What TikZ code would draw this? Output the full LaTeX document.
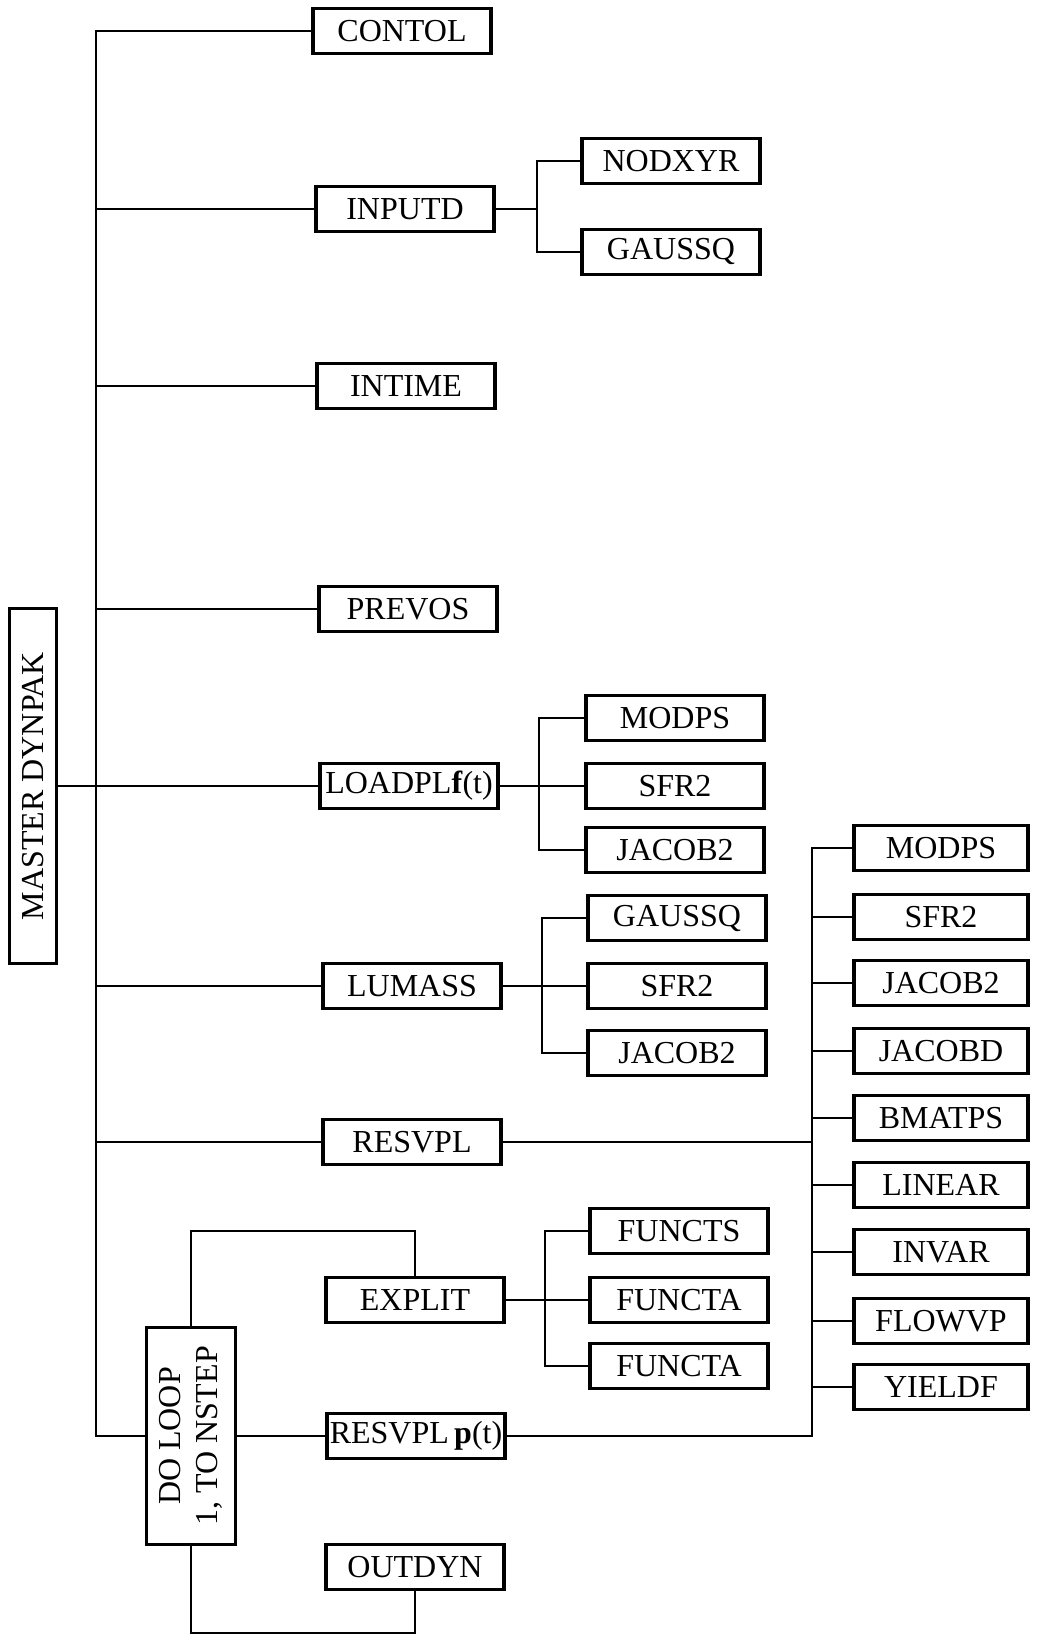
\documentclass[tikz,border=0pt]{standalone}
\usepackage{fontspec}
\setmainfont{Liberation Serif}
\usepackage{tikz}

\begin{document}
\begin{tikzpicture}[
            x = 0.01cm, y = -0.01cm, % pixel grid, y runs downwards
            line width = 0.6pt, % connector style
            font = \fontsize{9.1}{10.6}\selectfont,
            box/.style = {draw, line width=0.9pt, minimum width=1.78cm, minimum height=0.45cm, inner sep=0pt},
            rbox/.style = {box, minimum width=1.74cm},
            vbox/.style = {draw, line width=0.9pt, rotate=90, inner sep=0pt, align=center}
        ]
\useasboundingbox (0,0) rectangle (1046,1643);

\node[vbox, minimum width=3.55cm, minimum height=0.47cm] (MASTER) at (33,786) {MASTER DYNPAK};
\node[vbox, minimum width=2.17cm, minimum height=0.89cm] (LOOP) at (191,1436) {DO LOOP\\1, TO NSTEP};

\node[box] (CONTOL) at (402,31) {CONTOL};
\node[box] (INPUTD) at (405,209) {INPUTD};
\node[box] (INTIME) at (406,386) {INTIME};
\node[box] (PREVOS) at (408,609) {PREVOS};
\node[box] (LOADPL) at (409,786) {LOADPL\textbf{f}(t)};
\node[box] (LUMASS) at (412,986) {LUMASS};
\node[box] (RESVPL) at (412,1142) {RESVPL};
\node[box] (EXPLIT) at (415,1300) {EXPLIT};
\node[box] (RESVPLp) at (416,1436) {RESVPL\,\textbf{p}(t)};
\node[box] (OUTDYN) at (415,1567) {OUTDYN};

\node[box] (NODXYR) at (671,161) {NODXYR};
\node[box] (GAUSSQ) at (671,252) {GAUSSQ};
\node[box] (MODPS) at (675,718) {MODPS};
\node[box] (SFR2) at (675,786) {SFR2};
\node[box] (JACOB2) at (675,850) {JACOB2};
\node[box] (GAUSSQ_l) at (677,918) {GAUSSQ};
\node[box] (SFR2_l) at (677,986) {SFR2};
\node[box] (JACOB2_l) at (677,1053) {JACOB2};
\node[box] (FUNCTS) at (679,1231) {FUNCTS};
\node[box] (FUNCTA) at (679,1300) {FUNCTA};
\node[box] (FUNCTA_2) at (679,1366) {FUNCTA};

\node[rbox] (MODPS_r) at (941,848) {MODPS};
\node[rbox] (SFR2_r) at (941,917) {SFR2};
\node[rbox] (JACOB2_r) at (941,983) {JACOB2};
\node[rbox] (JACOBD) at (941,1051) {JACOBD};
\node[rbox] (BMATPS) at (941,1118) {BMATPS};
\node[rbox] (LINEAR) at (941,1185) {LINEAR};
\node[rbox] (INVAR) at (941,1252) {INVAR};
\node[rbox] (FLOWVP) at (941,1321) {FLOWVP};
\node[rbox] (YIELDF) at (941,1387) {YIELDF};

\coordinate (trunk) at (96,1436);
\coordinate (inB) at (537,209);
\coordinate (ldB) at (539,786);
\coordinate (luB) at (542,986);
\coordinate (exB) at (545,1300);
\coordinate (rTop) at (812,848);
\coordinate (upT) at (0,1231);
\coordinate (loB) at (0,1633);

% main trunk
\draw (CONTOL.west) -| (trunk) -- (LOOP.north);
\draw (INPUTD.west) -- (INPUTD.west -| trunk);
\draw (INTIME.west) -- (INTIME.west -| trunk);
\draw (PREVOS.west) -- (PREVOS.west -| trunk);
\draw (LUMASS.west) -- (LUMASS.west -| trunk);
\draw (RESVPL.west) -- (RESVPL.west -| trunk);
\draw (MASTER.south) -- (LOADPL.west);

% sub branches
\draw (INPUTD.east) -- (inB);
\draw (NODXYR.west) -| (inB) |- (GAUSSQ.west);
\draw (LOADPL.east) -- (SFR2.west);
\draw (MODPS.west) -| (ldB) |- (JACOB2.west);
\draw (LUMASS.east) -- (SFR2_l.west);
\draw (GAUSSQ_l.west) -| (luB) |- (JACOB2_l.west);
\draw (EXPLIT.east) -- (FUNCTA.west);
\draw (FUNCTS.west) -| (exB) |- (FUNCTA_2.west);

% loop
\draw (LOOP.east) -- (LOOP.east |- upT) -| (EXPLIT.north);
\draw (LOOP.west) -- (LOOP.west |- loB) -| (OUTDYN.south);
\draw (LOOP.south) -- (RESVPLp.west);

% right column
\draw (RESVPLp.east) -| (rTop) -- (MODPS_r.west);
\draw (RESVPL.east) -- (RESVPL.east -| rTop);
\draw (SFR2_r.west) -- (SFR2_r.west -| rTop);
\draw (JACOB2_r.west) -- (JACOB2_r.west -| rTop);
\draw (JACOBD.west) -- (JACOBD.west -| rTop);
\draw (BMATPS.west) -- (BMATPS.west -| rTop);
\draw (LINEAR.west) -- (LINEAR.west -| rTop);
\draw (INVAR.west) -- (INVAR.west -| rTop);
\draw (FLOWVP.west) -- (FLOWVP.west -| rTop);
\draw (YIELDF.west) -- (YIELDF.west -| rTop);
\end{tikzpicture}
\end{document}
